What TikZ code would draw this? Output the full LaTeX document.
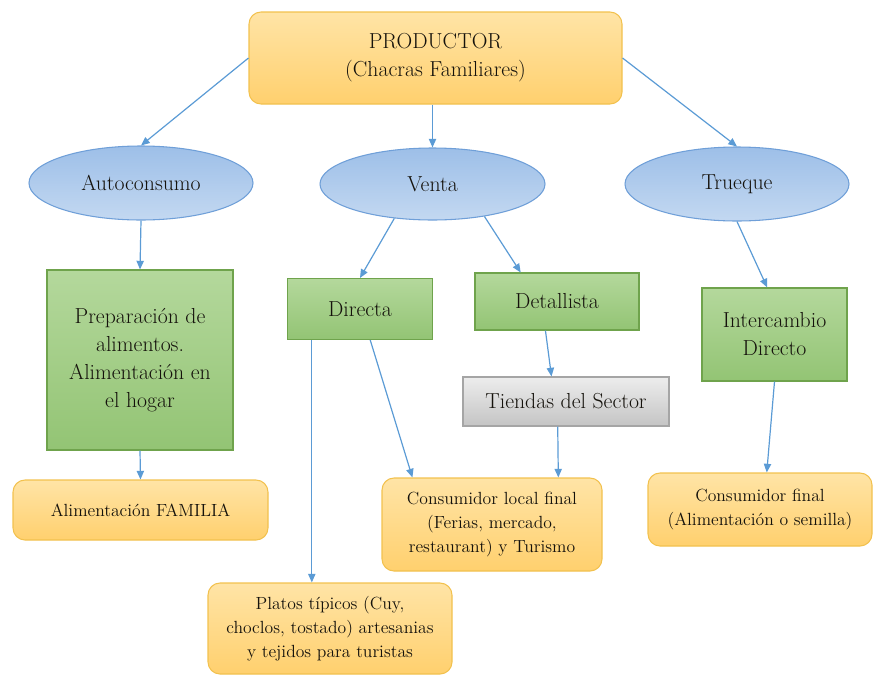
\documentclass[tikz,border=0pt]{standalone}
\usetikzlibrary{arrows.meta,shapes.geometric,calc}

\definecolor{azulflecha}{HTML}{5B9BD5}
\definecolor{naranjaA}{HTML}{FFE4A6}
\definecolor{naranjaB}{HTML}{FFD06E}
\definecolor{naranjaborde}{HTML}{F2C14E}
\definecolor{azulA}{HTML}{9DBFE8}
\definecolor{azulB}{HTML}{C3D8F1}
\definecolor{azulborde}{HTML}{6F9FD8}
\definecolor{verdeA}{HTML}{B4D89C}
\definecolor{verdeB}{HTML}{93C474}
\definecolor{verdeborde}{HTML}{6FA34C}
\definecolor{grisA}{HTML}{EDEDED}
\definecolor{grisB}{HTML}{C4C4C4}
\definecolor{grisborde}{HTML}{A5A5A5}
\definecolor{texto}{HTML}{15120C}

\begin{document}
\begin{tikzpicture}[x=0.75pt,y=-0.75pt,
  flecha/.style={draw=azulflecha,line width=0.9pt,-{Triangle[length=6.5pt,width=5.5pt]}},
  grande/.style={font=\fontsize{16.3}{21}\selectfont,text=texto,align=center,inner sep=2pt},
  chico/.style={font=\fontsize{13.2}{18}\selectfont,text=texto,align=center,inner sep=2pt},
  naranja/.style={rectangle,rounded corners=9pt,draw=naranjaborde,line width=0.8pt,top color=naranjaA,bottom color=naranjaB},
  elipse/.style={ellipse,draw=azulborde,line width=0.8pt,top color=azulA,bottom color=azulB,grande},
  verde/.style={rectangle,draw=verdeborde,line width=0.8pt,top color=verdeA,bottom color=verdeB,grande},
  gris/.style={rectangle,draw=grisborde,line width=0.8pt,top color=grisA,bottom color=grisB,grande}]
                \useasboundingbox (0,0) rectangle (874,675);

                % Productor at the top
                \node [naranja,grande,minimum width=279.75pt,minimum height=69pt] (prod) at (435.5,58) {PRODUCTOR\\(Chacras Familiares)};%

                % Three ways of using the harvest
                \node [elipse,minimum width=168pt,minimum height=55.5pt] (auto) at (141,183) {Autoconsumo};%
                \node [elipse,minimum width=168.75pt,minimum height=54pt] (ven) at (432.5,184) {Venta};%
                \node [elipse,minimum width=168pt,minimum height=55.5pt] (tru) at (737,184) {Trueque};%

                % Second level boxes
                \node [verde,minimum width=139.5pt,minimum height=135pt] (prep) at (140,360) {Preparación de\\alimentos.\\Alimentación en\\el hogar};%
                \node [verde,minimum width=108.75pt,minimum height=45.75pt] (dir) at (360,309) {Directa};%
                \node [verde,minimum width=123pt,minimum height=42.75pt] (det) at (557,301.5) {Detallista};%
                \node [gris,minimum width=154.5pt,minimum height=36.75pt] (tie) at (566,401.5) {Tiendas del Sector};%
                \node [verde,minimum width=108.75pt,minimum height=69.75pt] (int) at (774.5,334.5) {Intercambio\\Directo};%

                % Final consumers
                \node [naranja,chico,minimum width=191.25pt,minimum height=45pt] (fam) at (140.5,510) {Alimentación FAMILIA};%
                \node [naranja,chico,minimum width=165pt,minimum height=69.75pt] (loc) at (492,524.5) {Consumidor local final\\(Ferias, mercado,\\restaurant) y Turismo};%
                \node [naranja,chico,minimum width=168pt,minimum height=54.75pt] (fin) at (760,509.5) {Consumidor final\\(Alimentación o semilla)};%
                \node [naranja,chico,minimum width=183pt,minimum height=68.25pt] (plat) at (330,628.5) {Platos típicos (Cuy,\\choclos, tostado) artesanias\\y tejidos para turistas};%

                % Drawing arrows from productor
                \draw [flecha] (prod.west) -- (auto.north);%
                \draw [flecha] (prod.south -| ven.north) -- (ven.north);%
                \draw [flecha] (prod.east) -- (tru.north);%

                % Drawing arrows of the middle level
                \draw [flecha] (auto.south) -- (prep.north);%
                \draw [flecha] (ven.-138) -- (dir.north);%
                \draw [flecha] (ven.-32) -- ($(det.north west)!0.28!(det.north east)$);%
                \draw [flecha] (tru.south) -- ($(int.north west)!0.45!(int.north east)$);%

                % Drawing arrows to the consumers
                \draw [flecha] (prep.south) -- (fam.north);%
                \coordinate (dirA) at ($(dir.south west)!0.17!(dir.south east)$);%
                \draw [flecha] (dirA) -- (dirA |- plat.north);%
                \draw [flecha] ($(dir.south west)!0.57!(dir.south east)$) -- ($(loc.north west)!0.14!(loc.north east)$);%
                \draw [flecha] ($(det.south west)!0.43!(det.south east)$) -- ($(tie.north west)!0.43!(tie.north east)$);%
                \draw [flecha] ($(tie.south west)!0.46!(tie.south east)$) -- ($(loc.north west)!0.8!(loc.north east)$);%
                \draw [flecha] (int.south) -- ($(fin.north west)!0.53!(fin.north east)$);%
            \end{tikzpicture}
\end{document}
